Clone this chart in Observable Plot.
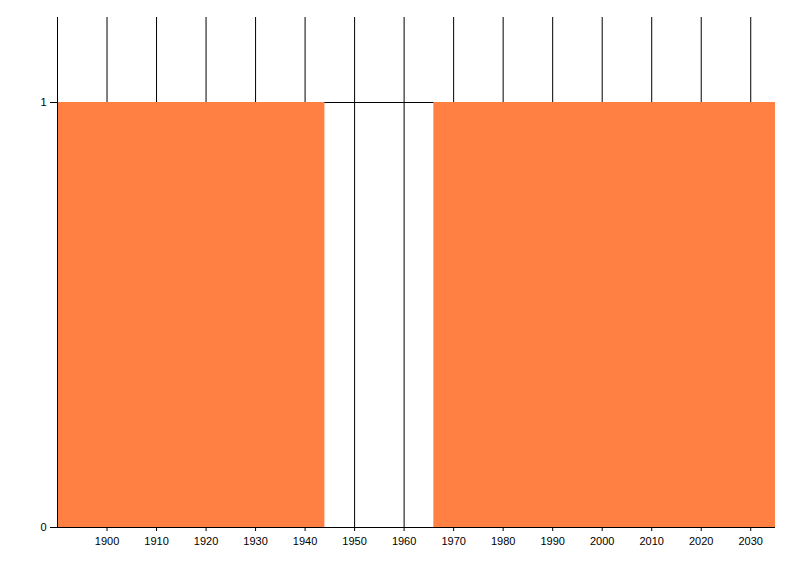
<!DOCTYPE html>
<html>
<head>
<meta charset="utf-8">
<script src="https://cdn.jsdelivr.net/npm/d3@7"></script>
<script src="https://cdn.jsdelivr.net/npm/@observablehq/plot@0.6"></script>
<style>
  html, body { margin: 0; padding: 0; background: #fff; }
</style>
</head>
<body>
<div id="chart"></div>
<script>
// Data: spans with value 1 (filled) over years
const spanStart = [1890, 1966];
const spanEnd = [1944, 2035];
const spanValue = [1, 1];
const xTicks = [1900, 1910, 1920, 1930, 1940, 1950, 1960, 1970, 1980, 1990, 2000, 2010, 2020, 2030];
const yTicks = [0, 1];
const xDomain = [1890, 2035];
const yDomain = [0, 1.2];

const spans = spanStart.map((s, i) => ({start: s, end: spanEnd[i], value: spanValue[i]}));

const chart = Plot.plot({
  width: 800,
  height: 576,
  marginLeft: 57,
  marginRight: 25,
  marginTop: 17,
  marginBottom: 49,
  style: {fontFamily: "'Liberation Sans', Arial, sans-serif", fontSize: "11px", color: "#000", background: "#fff"},
  x: {domain: xDomain},
  y: {domain: yDomain},
  marks: [
    Plot.ruleX(xTicks, {stroke: "#000", strokeWidth: 1}),
    Plot.ruleY([1], {stroke: "#000", strokeWidth: 1}),
    Plot.rectY(spans, {x1: "start", x2: "end", y: "value", fill: "#ff8042"}),
    Plot.ruleY([0], {stroke: "#000"}),
    Plot.ruleX([xDomain[0]], {stroke: "#000"}),
    Plot.axisX(xTicks, {tickSize: 4, tickPadding: 6, tickFormat: "d", label: null}),
    Plot.axisY(yTicks, {tickSize: 7, tickPadding: 4, tickFormat: "d", label: null})
  ]
});
document.getElementById("chart").appendChild(chart);
</script>
</body>
</html>
